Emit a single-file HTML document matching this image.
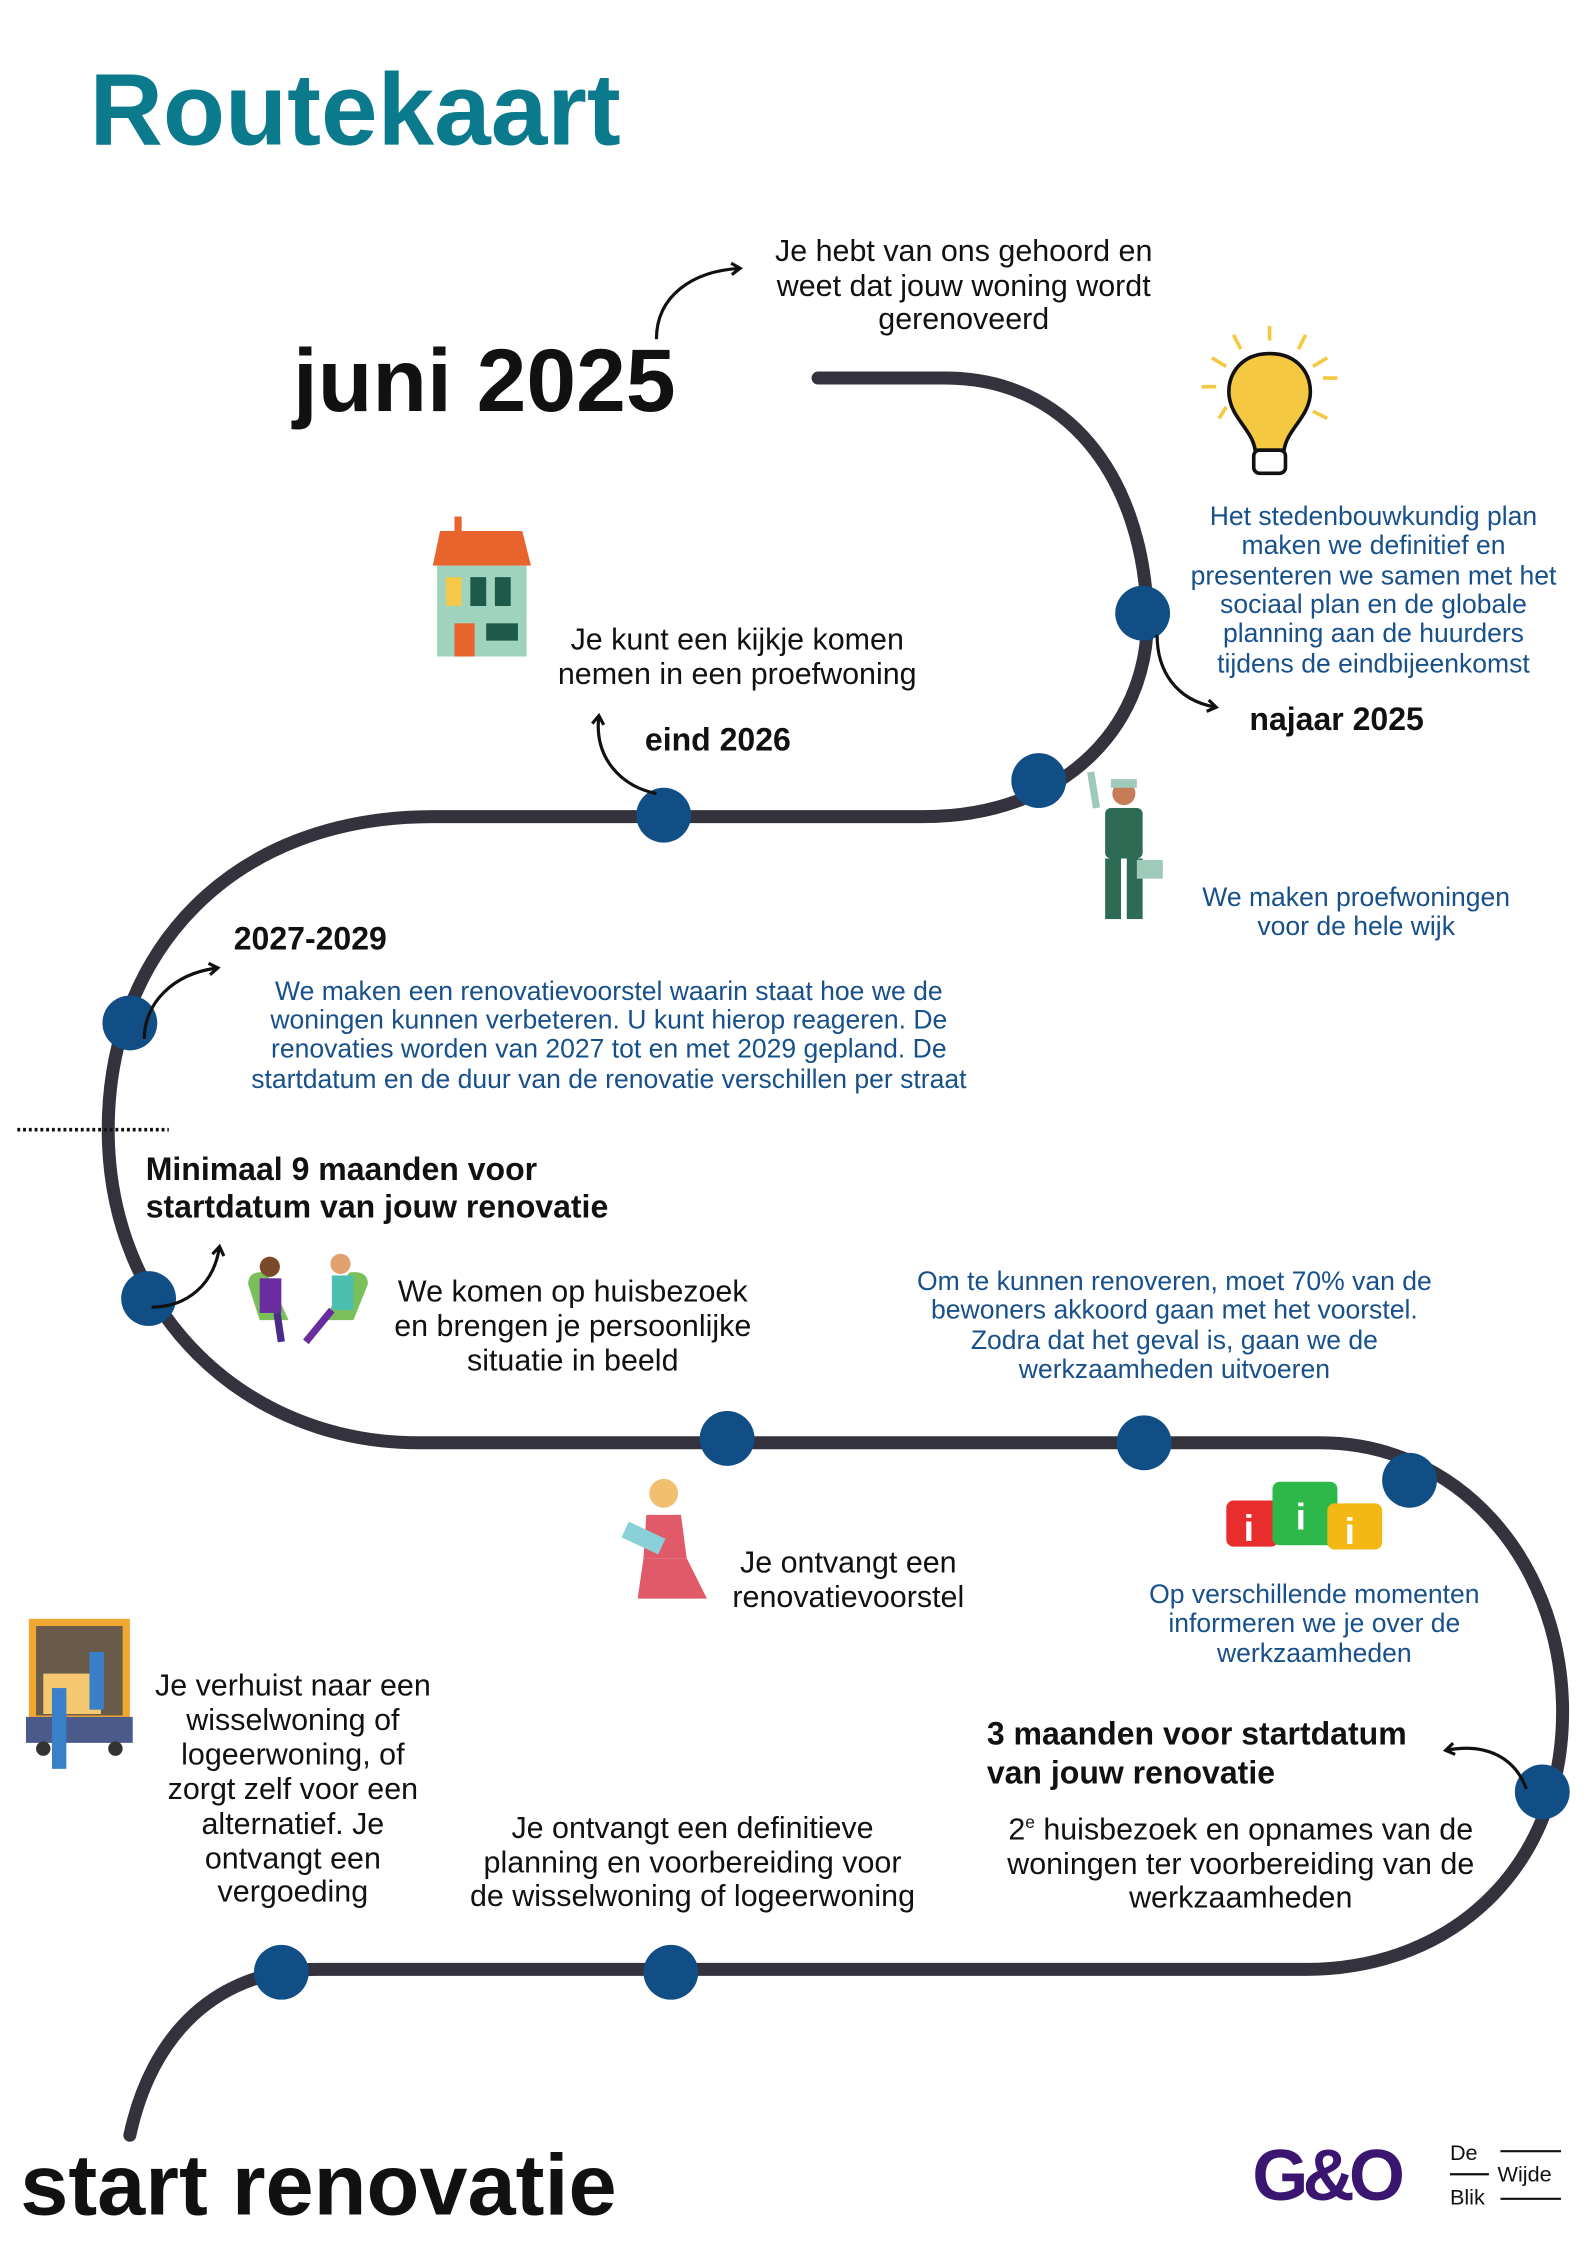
<!DOCTYPE html>
<html><head><meta charset="utf-8"><style>
html,body{margin:0;padding:0;background:#fff;}
svg{display:block;}
text{font-family:"Liberation Sans",sans-serif;}
.b{font-size:21.1px;fill:#111;}
.bl{font-size:18.4px;fill:#17508a;}
.h{font-size:22.2px;font-weight:bold;fill:#111;}
</style></head><body>
<svg width="1587" height="2245" viewBox="0 0 1100 1556" xmlns="http://www.w3.org/2000/svg">
<defs><marker id="ah" markerWidth="10" markerHeight="10" refX="6" refY="5" orient="auto" markerUnits="userSpaceOnUse"><path d="M1,1 L7,5 L1,9" fill="none" stroke="#111" stroke-width="2.2"/></marker></defs>
<text x="62" y="100" font-size="70.5" font-weight="bold" fill="#0a7a8c">Routekaart</text>
<path d="M567,262 L655,262 C740,262 790,330 795,420 C800,500 740,566 640,566 L300,566 C160,566 75,660 75,783 C75,910 170,1000 290,1000 L915,1000 C1010,1000 1080,1080 1083,1180 C1086,1290 1010,1365 905,1365 L220,1365 C150,1365 105,1410 90,1480" fill="none" stroke="#34323d" stroke-width="9" stroke-linecap="round"/>
<g fill="#124e86">
<circle cx="792" cy="425" r="19"/><circle cx="720" cy="541" r="19"/><circle cx="460" cy="565" r="19"/>
<circle cx="90" cy="709" r="19"/><circle cx="103" cy="900" r="19"/><circle cx="504" cy="997" r="19"/>
<circle cx="793" cy="1000" r="19"/><circle cx="977" cy="1026" r="19"/><circle cx="1069" cy="1242" r="19"/>
<circle cx="195" cy="1367" r="19"/><circle cx="465" cy="1367" r="19"/>
</g>
<g fill="none" stroke="#111" stroke-width="2.2" marker-end="url(#ah)">
<path d="M455,235 C455,205 480,188 512,186"/>
<path d="M802,440 C802,465 815,485 842,490"/>
<path d="M455,550 C430,545 412,525 415,497"/>
<path d="M100,720 C100,695 120,675 150,671"/>
<path d="M105,906 C130,906 148,890 152,865"/>
<path d="M1058,1240 C1050,1218 1030,1208 1003,1213"/>
</g>
<g class="b" text-anchor="middle">
<text x="668" y="181">Je hebt van ons gehoord en</text><text x="668" y="205">weet dat jouw woning wordt</text><text x="668" y="228">gerenoveerd</text>
<text x="511" y="450">Je kunt een kijkje komen</text><text x="511" y="474">nemen in een proefwoning</text>
<text x="397" y="902">We komen op huisbezoek</text><text x="397" y="926">en brengen je persoonlijke</text><text x="397" y="950">situatie in beeld</text>
<text x="588" y="1090">Je ontvangt een</text><text x="588" y="1114">renovatievoorstel</text>
<text x="203" y="1175">Je verhuist naar een</text><text x="203" y="1199">wisselwoning of</text><text x="203" y="1223">logeerwoning, of</text><text x="203" y="1247">zorgt zelf voor een</text><text x="203" y="1271">alternatief. Je</text><text x="203" y="1295">ontvangt een</text><text x="203" y="1318">vergoeding</text>
<text x="480" y="1274">Je ontvangt een definitieve</text><text x="480" y="1298">planning en voorbereiding voor</text><text x="480" y="1321">de wisselwoning of logeerwoning</text>
<text x="860" y="1275">2<tspan font-size="12" dy="-8">e</tspan><tspan dy="8"> huisbezoek en opnames van de</tspan></text><text x="860" y="1299">woningen ter voorbereiding van de</text><text x="860" y="1322">werkzaamheden</text>
</g>
<g class="bl" text-anchor="middle">
<text x="952" y="364">Het stedenbouwkundig plan</text><text x="952" y="384">maken we definitief en</text><text x="952" y="405">presenteren we samen met het</text><text x="952" y="425">sociaal plan en de globale</text><text x="952" y="445">planning aan de huurders</text><text x="952" y="466">tijdens de eindbijeenkomst</text>
<text x="940" y="628">We maken proefwoningen</text><text x="940" y="648">voor de hele wijk</text>
<text x="422" y="693">We maken een renovatievoorstel waarin staat hoe we de</text><text x="422" y="713">woningen kunnen verbeteren. U kunt hierop reageren. De</text><text x="422" y="733">renovaties worden van 2027 tot en met 2029 gepland. De</text><text x="422" y="754">startdatum en de duur van de renovatie verschillen per straat</text>
<text x="814" y="894">Om te kunnen renoveren, moet 70% van de</text><text x="814" y="914">bewoners akkoord gaan met het voorstel.</text><text x="814" y="935">Zodra dat het geval is, gaan we de</text><text x="814" y="955">werkzaamheden uitvoeren</text>
<text x="911" y="1111">Op verschillende momenten</text><text x="911" y="1131">informeren we je over de</text><text x="911" y="1152">werkzaamheden</text>
</g>
<text x="203" y="285" font-size="62" font-weight="bold" fill="#111">juni 2025</text>
<text class="h" x="866" y="506">najaar 2025</text>
<text class="h" x="447" y="520">eind 2026</text>
<text class="h" x="162" y="658">2027-2029</text>
<text class="h" x="101" y="818">Minimaal 9 maanden voor</text><text class="h" x="101" y="844">startdatum van jouw renovatie</text>
<text class="h" x="684" y="1209">3 maanden voor startdatum</text><text class="h" x="684" y="1236">van jouw renovatie</text>
<text x="14" y="1535" font-size="60" font-weight="bold" fill="#111">start renovatie</text>
<line x1="12" y1="783" x2="117" y2="783" stroke="#111" stroke-width="2.5" stroke-dasharray="2,2"/>
<g stroke="#111" stroke-width="2.5">
<path d="M880,245 C860,245 850,260 852,275 C854,290 868,298 870,312 L890,312 C892,298 906,290 908,275 C910,260 900,245 880,245Z" fill="#f5c842"/>
<rect x="869" y="312" width="22" height="16" rx="4" fill="#fff"/>
<g stroke="#f5c842" stroke-width="2.5"><line x1="880" y1="226" x2="880" y2="236"/><line x1="855" y1="232" x2="860" y2="242"/><line x1="905" y1="232" x2="900" y2="242"/><line x1="840" y1="248" x2="850" y2="254"/><line x1="920" y1="248" x2="910" y2="254"/><line x1="833" y1="268" x2="843" y2="268"/><line x1="917" y1="262" x2="927" y2="262"/><line x1="910" y1="285" x2="920" y2="290"/><line x1="845" y1="290" x2="850" y2="282"/></g>
</g>
<polygon points="305,368 362,368 368,392 300,392" fill="#e8642c"/>
<rect x="315" y="358" width="5" height="10" fill="#e8642c"/>
<rect x="303" y="392" width="62" height="63" fill="#9fd3bd"/>
<rect x="309" y="400" width="11" height="20" fill="#f4c84a"/><rect x="326" y="400" width="11" height="20" fill="#1e5a4a"/><rect x="343" y="400" width="11" height="20" fill="#1e5a4a"/>
<rect x="315" y="432" width="14" height="23" fill="#e8642c"/><rect x="337" y="432" width="22" height="12" fill="#1e5a4a"/>
<g><circle cx="779" cy="550" r="8" fill="#c77c58"/><rect x="770" y="540" width="18" height="6" fill="#9fc9b8"/>
<rect x="766" y="560" width="26" height="35" rx="4" fill="#2d6b55"/><rect x="766" y="595" width="11" height="42" fill="#2d6b55"/><rect x="781" y="595" width="11" height="42" fill="#2d6b55"/>
<rect x="788" y="596" width="18" height="13" fill="#9fc9b8"/><line x1="760" y1="560" x2="756" y2="535" stroke="#9fc9b8" stroke-width="5"/></g>
<g><path d="M172,890 Q172,880 185,882 L200,915 L180,915Z" fill="#7bbf5a"/><circle cx="187" cy="878" r="7" fill="#7a4a2a"/><rect x="180" y="886" width="15" height="24" fill="#6a2da0"/><line x1="192" y1="910" x2="195" y2="930" stroke="#4a2a8a" stroke-width="5"/>
<path d="M255,890 Q255,880 242,882 L225,915 L245,915Z" fill="#7bbf5a"/><circle cx="236" cy="876" r="7" fill="#e0a070"/><rect x="230" y="884" width="15" height="24" fill="#4dbfb0"/><line x1="230" y1="908" x2="212" y2="930" stroke="#6a2da0" stroke-width="5"/></g>
<g><circle cx="460" cy="1035" r="10" fill="#f0c070"/><path d="M448,1050 L472,1050 L476,1080 L446,1080Z" fill="#e05a6a"/><path d="M446,1080 L476,1080 L490,1108 L442,1108Z" fill="#e05a6a"/><rect x="432" y="1060" width="28" height="12" fill="#8ad0d8" transform="rotate(25 446 1066)"/></g>
<g font-family="Liberation Serif" font-weight="bold" fill="#fff" font-size="26">
<rect x="850" y="1040" width="36" height="32" rx="5" fill="#e82d2d"/><rect x="882" y="1027" width="45" height="44" rx="5" fill="#2fb84a"/><rect x="920" y="1042" width="38" height="32" rx="5" fill="#f4b814"/>
<text x="862" y="1068">i</text><text x="898" y="1060">i</text><text x="932" y="1070">i</text></g>
<g><rect x="20" y="1122" width="70" height="70" fill="#f0a830"/><rect x="25" y="1127" width="60" height="62" fill="#6a5a4a"/><rect x="30" y="1160" width="40" height="28" fill="#f6c870"/><rect x="18" y="1190" width="74" height="18" fill="#4a5a8a"/><circle cx="30" cy="1212" r="5" fill="#333"/><circle cx="80" cy="1212" r="5" fill="#333"/><rect x="36" y="1170" width="10" height="56" fill="#3a80c8"/><rect x="62" y="1145" width="10" height="40" fill="#3a80c8"/></g>
<text x="868" y="1525" font-size="50" font-weight="bold" fill="#3a1670" letter-spacing="-4">G&amp;O</text>
<g font-size="15" fill="#111"><text x="1005" y="1497">De</text><text x="1005" y="1528">Blik</text><text x="1038" y="1512">Wijde</text></g>
<line x1="1040" y1="1491" x2="1082" y2="1491" stroke="#111" stroke-width="1.5"/><line x1="1040" y1="1524" x2="1082" y2="1524" stroke="#111" stroke-width="1.5"/><line x1="1005" y1="1507" x2="1032" y2="1507" stroke="#111" stroke-width="1.5"/>
</svg>
</body></html>
